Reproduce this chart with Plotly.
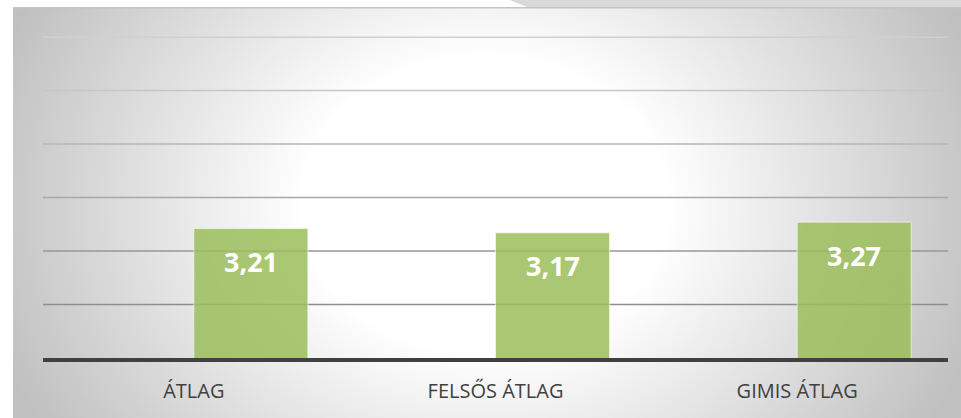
import base64
import plotly.graph_objects as go

categories = ["ÁTLAG", "FELSŐS ÁTLAG", "GIMIS ÁTLAG"]
values = [3.21, 3.17, 3.27]
value_labels = ["3,21", "3,17", "3,27"]
grid_vals = [2.5, 3.0, 3.5, 4.0, 4.5, 5.0]
grid_colors = ["#8e8e8e", "#979797", "#a8a8a8", "#b6b6b6", "#c6c6c6", "#d0d0d0"]

W, H = 961, 418
ML, MR, MT, MB = 43, 13, 35, 60
pw = W - ML - MR
ph = H - MT - MB

svg = f"""<svg xmlns='http://www.w3.org/2000/svg' width='{W}' height='{H}' viewBox='0 0 {W} {H}' preserveAspectRatio='none'>
<defs><radialGradient id='g' gradientUnits='userSpaceOnUse' cx='0' cy='0' r='1' gradientTransform='translate(485,205) scale(520,420)'>
<stop offset='0' stop-color='#ffffff'/><stop offset='0.35' stop-color='#ffffff'/><stop offset='1' stop-color='#c0c0c0'/></radialGradient></defs>
<rect x='0' y='0' width='{W}' height='{H}' fill='#ffffff'/>
<polygon points='510,0 {W},0 {W},7 527,7' fill='#d9d9d9'/>
<rect x='13' y='7' width='{W-13}' height='{H-7}' fill='url(#g)'/>
<rect x='13' y='7' width='{W-13}' height='1.5' fill='#c4c4c4'/>
</svg>"""
src = "data:image/svg+xml;base64," + base64.b64encode(svg.encode()).decode()

fig = go.Figure()
fig.add_trace(go.Bar(
    x=categories, y=values, offset=0, width=0.378,
    marker=dict(color="rgba(155,189,90,0.85)", line=dict(color="rgba(255,255,255,0.6)", width=1)),
    hoverinfo="skip",
))
for c, v, t in zip(categories, values, value_labels):
    fig.add_annotation(x=c, y=v, text=t, showarrow=False, xshift=57, yshift=-33,
                       yanchor="middle",
                       font=dict(family="Open Sans", size=27, color="white", weight="bold"))
for gv, gc in zip(grid_vals, grid_colors):
    fig.add_shape(type="line", xref="paper", yref="y", x0=0, x1=1, y0=gv, y1=gv,
                  line=dict(color=gc, width=1.5), layer="below")

fig.update_layout(
    width=W, height=H,
    margin=dict(l=ML, r=MR, t=MT, b=MB),
    paper_bgcolor="white", plot_bgcolor="rgba(0,0,0,0)",
    showlegend=False,
    images=[dict(source=src, xref="paper", yref="paper",
                 x=-ML / pw, y=1 + MT / ph, sizex=W / pw, sizey=H / ph,
                 xanchor="left", yanchor="top", sizing="stretch", layer="below")],
    xaxis=dict(showgrid=False, showline=True, linecolor="#404040", linewidth=3.5,
               ticks="", tickfont=dict(family="Open Sans", size=20, color="#404040"),
               ticklabelstandoff=12),
    yaxis=dict(range=[2, 5.02], showgrid=False,
               showticklabels=False, zeroline=False, showline=False),
)
fig.write_html("out.html", config={"displayModeBar": False},
               post_script="document.body.style.margin='0';")
